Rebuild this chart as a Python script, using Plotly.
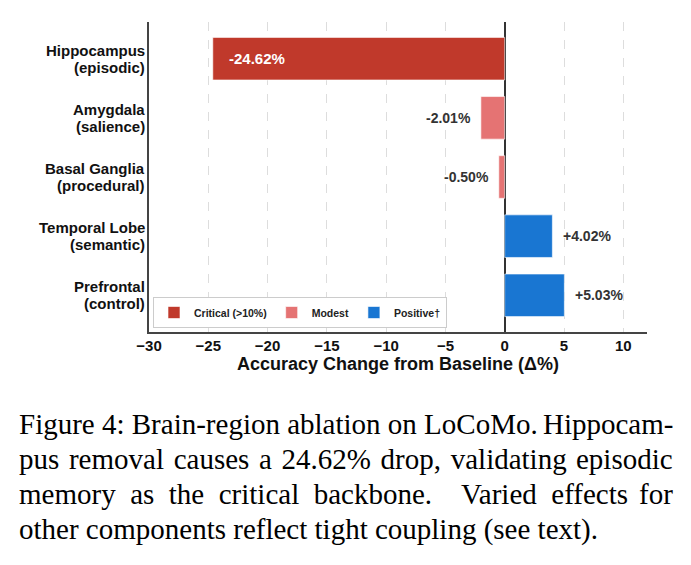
import plotly.graph_objects as go

# ---------------- data ----------------
regions = ["Hippocampus<br>(episodic)", "Amygdala<br>(salience)", "Basal Ganglia<br>(procedural)",
           "Temporal Lobe<br>(semantic)", "Prefrontal<br>(control)"]
delta = [-24.62, -2.01, -0.50, 4.02, 5.03]
labels = ["-24.62%", "-2.01%", "-0.50%", "+4.02%", "+5.03%"]
groups = ["Critical (>10%)", "Modest", "Modest", "Positive\u2020", "Positive\u2020"]
group_order = ["Critical (>10%)", "Modest", "Positive\u2020"]
group_colors = {"Critical (>10%)": "#C0392B", "Modest": "#E57373", "Positive\u2020": "#1976D2"}
x_ticks = [-30, -25, -20, -15, -10, -5, 0, 5, 10]

caption_lines = [
    "Figure 4: Brain-region ablation on LoCoMo. Hippocam-",
    "pus removal causes a 24.62% drop, validating episodic",
    "memory as the critical backbone.  Varied effects for",
    "other components reflect tight coupling (see text).",
]

# ---------------- layout constants ----------------
W, H = 691, 565
L, R, T, B = 149, 44, 22, 233
PW, PH = W - L - R, H - T - B
SANS = "Liberation Sans, Arial, sans-serif"
SERIF = "Liberation Serif, Times New Roman, serif"

def px_x(p):
    return (p - L) / PW

def px_y(p):
    return (H - B - p) / PH

fig = go.Figure()
ypos = list(range(len(regions)))
for g in group_order:
    idx = [i for i, gg in enumerate(groups) if gg == g]
    fig.add_trace(go.Bar(
        x=[delta[i] for i in idx], y=[ypos[i] for i in idx], orientation="h",
        name=g, width=0.72,
        marker=dict(color=group_colors[g], line=dict(color="white", width=0.6)),
        showlegend=True,
    ))

annotations = []
# value labels
for i, (v, lab) in enumerate(zip(delta, labels)):
    if abs(v) > 10:
        annotations.append(dict(x=v, y=ypos[i], xref="x", yref="y", text=lab, showarrow=False,
                                xanchor="left", xshift=14,
                                font=dict(family=SANS, size=15, color="white", weight="bold")))
    elif v < 0:
        annotations.append(dict(x=v, y=ypos[i], xref="x", yref="y", text=lab, showarrow=False,
                                xanchor="right", xshift=-8,
                                font=dict(family=SANS, size=14, color="#333333", weight="bold")))
    else:
        annotations.append(dict(x=v, y=ypos[i], xref="x", yref="y", text=lab, showarrow=False,
                                xanchor="left", xshift=9,
                                font=dict(family=SANS, size=14, color="#333333", weight="bold")))

# category labels (two tight lines each, right-aligned next to the y axis)
for i, name in enumerate(regions):
    parts = name.split("<br>")
    for k, part in enumerate(parts):
        annotations.append(dict(x=px_x(147), y=ypos[i], xref="paper", yref="y", text=part,
                                showarrow=False, xanchor="right", yanchor="middle",
                                yshift=(8.5 if k == 0 else -8.5),
                                font=dict(family=SANS, size=15, color="#111111", weight="bold")))

# caption: justified lines (body left-aligned, last word right-aligned)
cap_y = [424, 459, 494, 529]
left_px, right_px = 17, 675
for j, (line, yc) in enumerate(zip(caption_lines, cap_y)):
    if j < len(caption_lines) - 1:
        body, last = line.rsplit(" ", 1)
        if j == 1:
            body = body.replace(" ", " \u200a")
        if j == 2:
            body = body.replace("  ", " \u00a0\u00a0").replace(" ", "\u00a0 ")
        annotations.append(dict(x=px_x(left_px), y=px_y(yc), xref="paper", yref="paper", text=body,
                                showarrow=False, xanchor="left", yanchor="middle",
                                font=dict(family=SERIF, size=29, color="black")))
        annotations.append(dict(x=px_x(right_px), y=px_y(yc), xref="paper", yref="paper", text=last,
                                showarrow=False, xanchor="right", yanchor="middle",
                                font=dict(family=SERIF, size=29, color="black")))
    else:
        annotations.append(dict(x=px_x(left_px), y=px_y(yc), xref="paper", yref="paper", text=line,
                                showarrow=False, xanchor="left", yanchor="middle",
                                font=dict(family=SERIF, size=29, color="black")))

fig.update_layout(
    width=W, height=H,
    margin=dict(l=L, r=R, t=T, b=B, pad=0),
    paper_bgcolor="white", plot_bgcolor="white",
    barmode="overlay",
    annotations=annotations,
    legend=dict(orientation="h", x=px_x(153), y=px_y(328), xanchor="left", yanchor="bottom",
                bgcolor="white", bordercolor="#cccccc", borderwidth=1,
                font=dict(family=SANS, size=10.5, color="#222222", weight="bold"),
                itemwidth=30, tracegroupgap=0),
    xaxis=dict(range=[-30, 12], tickvals=x_ticks,
               ticktext=[("\u2212" + str(-t)) if t < 0 else str(t) for t in x_ticks],
               showgrid=True, gridcolor="#dddddd", griddash="dash", gridwidth=0.8,
               zeroline=True, zerolinecolor="#333333", zerolinewidth=2,
               showline=True, linecolor="#444444", linewidth=1.5, ticks="",
               ticklabelstandoff=-1,
               tickfont=dict(family=SANS, size=15, color="#111111", weight="bold"),
               title=dict(text="Accuracy Change from Baseline (\u0394%)", standoff=2,
                          font=dict(family=SANS, size=18, color="#111111", weight="bold"))),
    yaxis=dict(range=[len(regions) - 0.38, -0.62], tickvals=ypos, ticktext=[""] * len(ypos),
               showgrid=False, zeroline=False,
               showline=True, linecolor="#444444", linewidth=1.5, ticks=""),
)

fig.write_html("out.html")
